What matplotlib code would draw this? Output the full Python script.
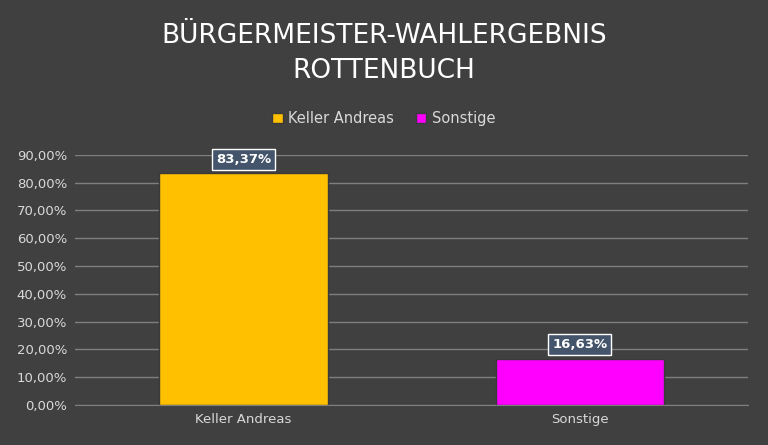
import matplotlib.pyplot as plt

# Ergebnis Bürgermeisterwahl
candidates = ['Keller Andreas', 'Sonstige']
shares = [83.37, 16.63]
colors = ['#FFC000', '#FF00FF']
yticks = [0, 10, 20, 30, 40, 50, 60, 70, 80, 90]

bg = '#404040'
fig = plt.figure(figsize=(7.68, 4.45), dpi=100, facecolor=bg)
ax = fig.add_axes([0.098, 0.09, 0.876, 0.562], facecolor=bg)

x = list(range(len(candidates)))
bars = ax.bar(x, shares, width=0.5, color=colors, edgecolor='#3a3a3a',
              linewidth=1, zorder=3, label=candidates)

ax.set_xlim(-0.5, 1.5)
ax.set_ylim(0, 90)
ax.set_yticks(yticks)
ax.set_yticklabels([f'{v:.2f}'.replace('.', ',') + '%' for v in yticks],
                   color='#d9d9d9', fontsize=9.5)
ax.set_xticks(x)
ax.set_xticklabels(candidates, color='#d9d9d9', fontsize=9.5)
ax.tick_params(length=0, pad=6)
ax.grid(axis='y', color='#7f7f7f', linewidth=1, zorder=0)
for s in ['top', 'right', 'left']:
    ax.spines[s].set_visible(False)
ax.spines['bottom'].set_color('#7f7f7f')

for xi, v in zip(x, shares):
    ax.text(xi, v + 5, f'{v:.2f}'.replace('.', ',') + '%', ha='center', va='center',
            color='white', fontsize=9.5, fontweight='bold', zorder=5,
            bbox=dict(boxstyle='square,pad=0.3', facecolor='#44546A',
                      edgecolor='white', linewidth=1))

fig.text(0.5, 0.92, 'BÜRGERMEISTER-WAHLERGEBNIS', ha='center', va='center',
         color='white', fontsize=19)
fig.text(0.5, 0.84, 'ROTTENBUCH', ha='center', va='center',
         color='white', fontsize=19)

leg = fig.legend(handles=bars, labels=candidates, loc='center',
                 bbox_to_anchor=(0.5, 0.733), ncol=2, frameon=False,
                 fontsize=10.5, handlelength=0.7, handleheight=0.7,
                 columnspacing=1.5, handletextpad=0.4)
for t in leg.get_texts():
    t.set_color('#d9d9d9')

fig.savefig('out.png', facecolor=bg)
